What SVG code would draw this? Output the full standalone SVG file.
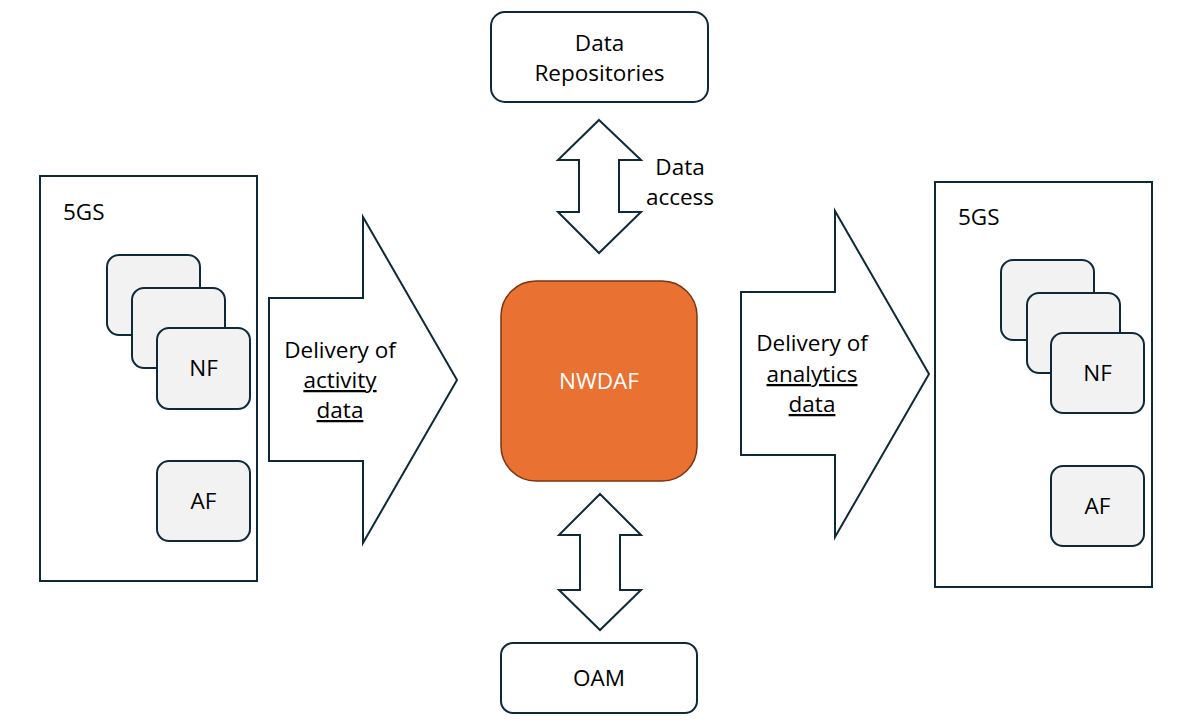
<svg xmlns="http://www.w3.org/2000/svg" width="1182" height="728" viewBox="0 0 1182 728">
<style>
.box{fill:#fff;stroke:#0e2a3a;stroke-width:2}
.sub{fill:#f2f2f2;stroke:#0e2a3a;stroke-width:2}
.arr{fill:#fff;stroke:#0e2a3a;stroke-width:2;stroke-linejoin:miter}
.t{font-family:"Open Sans","Liberation Sans",sans-serif;font-size:22.5px;fill:#000;text-anchor:middle}
.tl{font-family:"Open Sans","Liberation Sans",sans-serif;font-size:22.5px;fill:#000}
.u{text-decoration:underline}
</style>
<rect width="1182" height="728" fill="#fff"/>
<g id="left-5gs">
<rect class="box" x="40" y="176" width="217" height="405"/>
<text class="tl" x="63" y="220">5GS</text>
<rect class="sub" x="107" y="255" width="93" height="80" rx="12"/>
<rect class="sub" x="132" y="288" width="93" height="80" rx="12"/>
<g id="left-nf"><rect class="sub" x="157" y="328" width="93" height="81" rx="12"/>
<text class="t" x="203.5" y="376">NF</text></g>
<g id="left-af"><rect class="sub" x="157" y="461" width="93" height="80" rx="12"/>
<text class="t" x="203.5" y="509">AF</text></g>
</g>
<g id="right-5gs">
<rect class="box" x="935" y="182" width="217" height="405"/>
<text class="tl" x="958" y="225">5GS</text>
<rect class="sub" x="1001" y="260" width="93" height="80" rx="12"/>
<rect class="sub" x="1027" y="293" width="93" height="80" rx="12"/>
<g id="right-nf"><rect class="sub" x="1051" y="333" width="93" height="80" rx="12"/>
<text class="t" x="1097.5" y="381">NF</text></g>
<g id="right-af"><rect class="sub" x="1051" y="466" width="93" height="80" rx="12"/>
<text class="t" x="1097.5" y="514">AF</text></g>
</g>
<g id="data-repositories">
<rect class="box" x="491" y="12" width="217" height="90" rx="14"/>
<text class="t" x="599.5" y="51">Data</text>
<text class="t" x="599.5" y="81">Repositories</text>
</g>
<g id="nwdaf">
<rect x="501" y="281" width="196" height="200" rx="35" fill="#e97132" stroke="#7a3410" stroke-width="1.5"/>
<text class="t" x="599" y="389" style="fill:#fff">NWDAF</text>
</g>
<g id="oam">
<rect class="box" x="501" y="643" width="196" height="70" rx="12"/>
<text class="t" x="599" y="686">OAM</text>
</g>
<g id="connectors">
<g id="delivery-activity">
<polygon class="arr" points="269,298 363,298 363,217 457,380 363,543 363,461 269,461"/>
<text class="t" x="340" y="358">Delivery of</text>
<text class="t u" x="340" y="388">activity</text>
<text class="t u" x="340" y="418">data</text>
</g>
<g id="delivery-analytics">
<polygon class="arr" points="741,292 835,292 835,211 929,374 835,537 835,455 741,455"/>
<text class="t" x="812" y="351">Delivery of</text>
<text class="t u" x="812" y="382">analytics</text>
<text class="t u" x="812" y="412">data</text>
</g>
<g id="data-access">
<polygon class="arr" points="599,120 641,160 619,160 619,212 641,212 599,253 558,212 579,212 579,160 558,160"/>
<text class="t" x="680" y="175">Data</text>
<text class="t" x="680" y="205">access</text>
</g>
<g id="oam-link">
<polygon class="arr" points="600,494 641,535 620,535 620,590 641,590 600,630 559,590 580,590 580,535 559,535"/>
</g>
</g>
</svg>
